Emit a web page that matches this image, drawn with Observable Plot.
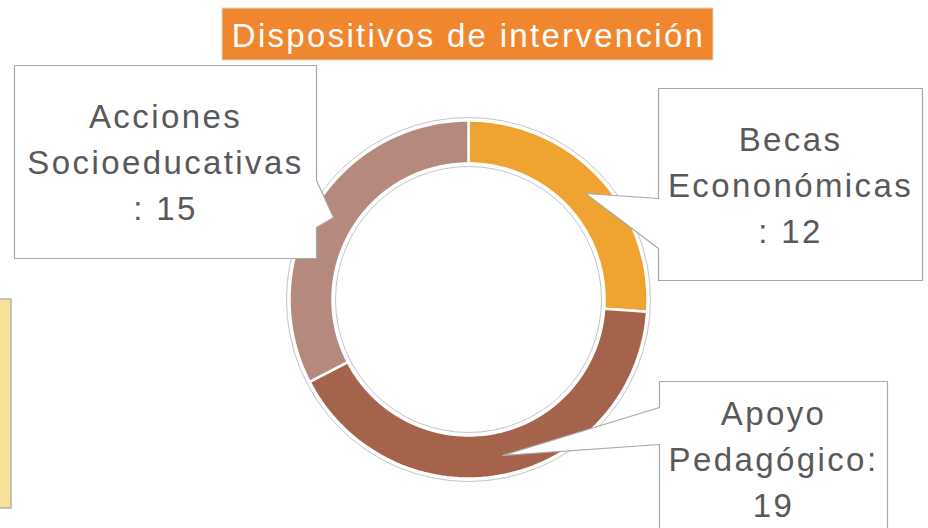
<!DOCTYPE html>
<html>
<head>
<meta charset="utf-8">
<script src="https://cdn.jsdelivr.net/npm/d3@7"></script>
<script src="https://cdn.jsdelivr.net/npm/@observablehq/plot@0.6"></script>
<style>
  html, body { margin: 0; padding: 0; background: #ffffff; overflow: hidden; }
  #chart svg { display: block; }
</style>
</head>
<body>
<div id="chart"></div>
<script>
// ---- Data ----
const title = "Dispositivos de intervención";
const categories = ["Becas Econonómicas", "Apoyo Pedagógico", "Acciones Socioeducativas"];
const values = [12, 19, 15];
const labelTemplates = ["Becas\nEcononómicas\n: {v}", "Apoyo\nPedagógico:\n{v}", "Acciones\nSocioeducativas\n: {v}"];
const colors = ["#EFA432", "#A5634C", "#B5897E"];

// ---- Layout (pixels) ----
const W = 928, H = 528;
const cx = 468, cy = 299;
const rOuterLine = 182, rOuter = 179, rInner = 136, rInnerLine = 133;
const font = "'Liberation Sans', Arial, sans-serif";

// callout boxes (layout): polygon outlines with pointer, label centre
const callouts = [
  { cat: categories[0], cx: 790, cy: 181.5,
    pts: [[658,88],[922,88],[922,280],[658,280],[658,248],[585,193],[658,198],[658,88]] },
  { cat: categories[1], cx: 773, cy: 455.5,
    pts: [[659,381],[887,381],[887,532],[659,532],[659,444],[502,455],[659,407],[659,381]] },
  { cat: categories[2], cx: 165, cy: 159,
    pts: [[14,65],[316,65],[316,180],[333,217],[316,227],[316,258],[14,258],[14,65]] }
];

// ---- Derived ----
const data = categories.map((c, i) => ({ category: c, value: values[i] }));
const arcs = d3.pie().sort(null).value(d => d.value)(data);

const slicePts = [];
for (const a of arcs) {
  const n = 80;
  const ring = [];
  for (let k = 0; k <= n; k++) {
    const t = a.startAngle + (a.endAngle - a.startAngle) * k / n;
    ring.push({ x: cx + rOuter * Math.sin(t), y: cy - rOuter * Math.cos(t) });
  }
  for (let k = n; k >= 0; k--) {
    const t = a.startAngle + (a.endAngle - a.startAngle) * k / n;
    ring.push({ x: cx + rInner * Math.sin(t), y: cy - rInner * Math.cos(t) });
  }
  ring.push(ring[0]);
  ring.forEach(p => slicePts.push({ ...p, category: a.data.category }));
}

const calloutPts = [];
callouts.forEach((c, i) => c.pts.forEach(([x, y]) => calloutPts.push({ x, y, id: i })));

const labelData = callouts.map(c => {
  const idx = categories.indexOf(c.cat);
  return { x: c.cx, y: c.cy, text: labelTemplates[idx].replace("{v}", values[idx]) };
});

const chart = Plot.plot({
  width: W,
  height: H,
  margin: 0,
  x: { domain: [0, W], range: [0, W], axis: null },
  y: { domain: [0, H], range: [0, H], axis: null },
  color: { domain: categories, range: colors },
  style: { background: "#ffffff", fontFamily: font },
  marks: [
    // partial yellow box at the left edge
    Plot.rect([{ x1: -3, x2: 11, y1: 299, y2: 508 }], {
      x1: "x1", x2: "x2", y1: "y1", y2: "y2", fill: "#F8E09B", stroke: "#b3b3b3", strokeWidth: 1.5
    }),
    // outer outline ring
    Plot.dot([{ x: cx, y: cy }], { x: "x", y: "y", r: rOuterLine, fill: "#ffffff", stroke: "#c4c4c4", strokeWidth: 1 }),
    // donut slices
    Plot.line(slicePts, {
      x: "x", y: "y", z: "category", fill: "category",
      stroke: "#ffffff", strokeWidth: 2.5, curve: "linear"
    }),
    // inner outline
    Plot.dot([{ x: cx, y: cy }], { x: "x", y: "y", r: rInnerLine, fill: "#ffffff", stroke: "#c4c4c4", strokeWidth: 1 }),
    // callout boxes
    Plot.line(calloutPts, {
      x: "x", y: "y", z: "id", fill: "#ffffff", stroke: "#a8a8a8", strokeWidth: 1.2
    }),
    // callout labels
    Plot.text(labelData, {
      x: "x", y: "y", text: "text", fontSize: 33, lineHeight: 46 / 33,
      fill: "#595959", textAnchor: "middle", fontFamily: font
    }),
    // title box
    Plot.rect([{ x1: 222, x2: 713, y1: 8, y2: 60 }], {
      x1: "x1", x2: "x2", y1: "y1", y2: "y2", fill: "#F0862E", stroke: "#d9d9d9", strokeWidth: 1
    }),
    Plot.text([{ x: 468, y: 35.5, text: title }], {
      x: "x", y: "y", text: "text", fontSize: 33, fill: "#ffffff", textAnchor: "middle", fontFamily: font
    })
  ]
});

document.getElementById("chart").appendChild(chart);
const textGroups = d3.select(chart).selectAll("g[aria-label='text']").nodes();
if (textGroups[0]) d3.select(textGroups[0]).selectAll("text").attr("letter-spacing", "2.4px");
if (textGroups[1]) d3.select(textGroups[1]).selectAll("text").attr("letter-spacing", "2.3px");
</script>
</body>
</html>
